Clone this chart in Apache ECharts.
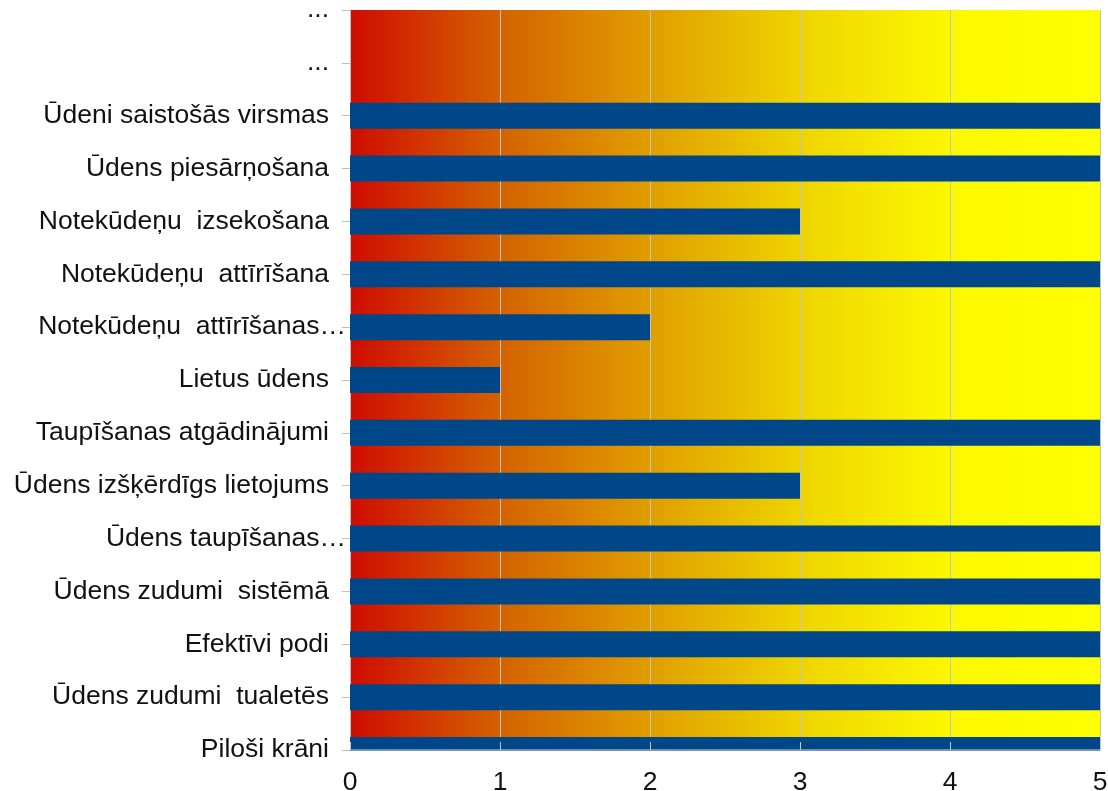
<!DOCTYPE html>
<html>
<head>
<meta charset="utf-8">
<script src="https://cdn.jsdelivr.net/npm/echarts@6/dist/echarts.min.js"></script>
<style>
  html, body { margin: 0; padding: 0; background: #fff; }
  #chart { width: 1108px; height: 791px; }
</style>
</head>
<body>
<div id="chart"></div>
<script>
// Categories listed from bottom to top
const categories = [
  'Piloši krāni',
  'Ūdens zudumi  tualetēs',
  'Efektīvi podi',
  'Ūdens zudumi  sistēmā',
  'Ūdens taupīšanas…',
  'Ūdens izšķērdīgs lietojums',
  'Taupīšanas atgādinājumi',
  'Lietus ūdens',
  'Notekūdeņu  attīrīšanas…',
  'Notekūdeņu  attīrīšana',
  'Notekūdeņu  izsekošana',
  'Ūdens piesārņošana',
  'Ūdeni saistošās virsmas',
  '...',
  '...'
];
const scores = [5, 5, 5, 5, 5, 3, 5, 1, 2, 5, 3, 5, 5, null, null];
const xTicks = [0, 1, 2, 3, 4, 5];

const font = '"Liberation Sans", Arial, sans-serif';
const LEFT = 350, RIGHT = 8, TOP = 10, BOTTOM = 41;
const W = 1108, H = 791;

const chart = echarts.init(document.getElementById('chart'));
chart.setOption({
  animation: false,
  grid: {
    left: LEFT, right: RIGHT, top: TOP, bottom: BOTTOM,
    outerBoundsMode: 'none',
    containLabel: false,
    show: true,
    borderWidth: 0,
    backgroundColor: {
      type: 'linear', x: 0, y: 0, x2: 1, y2: 0,
      colorStops: [
        { offset: 0.0, color: '#cf0c00' },
        { offset: 0.2, color: '#d46200' },
        { offset: 0.4, color: '#e09e00' },
        { offset: 0.6, color: '#eed400' },
        { offset: 0.8, color: '#fcf800' },
        { offset: 1.0, color: '#ffff00' }
      ]
    }
  },
  // keep the half bar on the bottom category inside the plot
  graphic: [{
    type: 'rect',
    z: 4,
    silent: true,
    shape: { x: LEFT - 2, y: H - BOTTOM + 0.8, width: W - LEFT, height: 17 },
    style: { fill: '#ffffff' }
  }],
  xAxis: [{
    type: 'value',
    min: xTicks[0],
    max: xTicks[xTicks.length - 1],
    interval: 1,
    axisLine: { show: false },
    axisTick: { show: false },
    splitLine: { show: true, lineStyle: { color: '#c2c2c2', width: 1 } },
    axisLabel: { color: '#111', fontSize: 26.5, fontFamily: font, margin: 19 }
  }, {
    // overlay axis: baseline and inward ticks drawn above the bars
    type: 'value',
    position: 'bottom',
    offset: 0,
    min: xTicks[0],
    max: xTicks[xTicks.length - 1],
    interval: 1,
    z: 6,
    axisLine: { show: true, lineStyle: { color: '#8ea3c0', width: 1.5 } },
    axisTick: { show: true, inside: true, length: 8, lineStyle: { color: '#c8c8c8' } },
    splitLine: { show: false },
    axisLabel: { show: false }
  }],
  yAxis: {
    type: 'category',
    data: categories,
    boundaryGap: false,
    axisLine: { show: true, lineStyle: { color: '#c0c0c0', width: 1 } },
    axisTick: { show: true, length: 8, lineStyle: { color: '#c0c0c0' } },
    splitLine: { show: false },
    axisLabel: {
      color: '#111', fontSize: 26.5, fontFamily: font, margin: 21, interval: 0,
      formatter: function (v) {
        return v.endsWith('…') ? '{cut|' + v + '}' : v;
      },
      rich: {
        cut: { color: '#111', fontSize: 26.5, fontFamily: font, padding: [0, -17, 0, 0] }
      }
    }
  },
  series: [{
    type: 'bar',
    xAxisIndex: 0,
    data: scores,
    barWidth: 26,
    clip: true,
    itemStyle: { color: '#00478a' }
  }]
});
</script>
</body>
</html>
